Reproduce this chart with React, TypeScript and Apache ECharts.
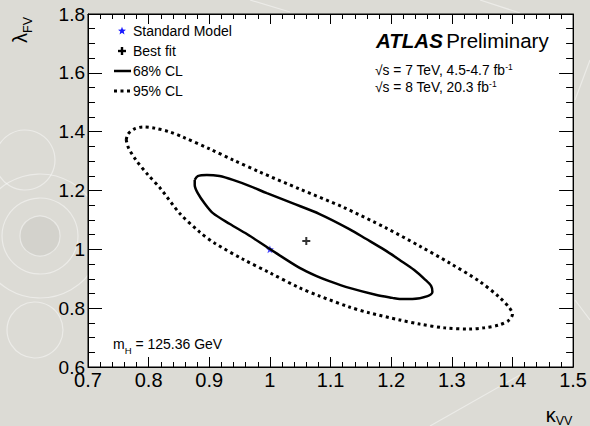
import { useEffect, useRef } from "react";
import * as echarts from "echarts";

// Likelihood contours in the (kappa_VV, lambda_FV) plane
const contour68: [number, number][] = [
  [0.876, 1.236], [0.881, 1.249], [0.896, 1.253], [0.917, 1.249], [0.939, 1.236],
  [0.967, 1.215], [0.995, 1.191], [1.037, 1.157], [1.082, 1.12], [1.131, 1.069],
  [1.159, 1.035], [1.189, 0.998], [1.214, 0.964], [1.238, 0.93], [1.255, 0.899],
  [1.266, 0.875], [1.268, 0.855], [1.26, 0.841], [1.235, 0.831], [1.214, 0.831],
  [1.202, 0.835], [1.176, 0.845], [1.131, 0.869], [1.098, 0.892], [1.077, 0.909],
  [1.049, 0.937], [1.0, 1.001], [0.962, 1.052], [0.934, 1.086], [0.906, 1.123],
  [0.893, 1.154], [0.881, 1.191], [0.876, 1.219], [0.876, 1.236],
];

const contour95: [number, number][] = [
  [0.763, 1.372], [0.766, 1.392], [0.776, 1.409], [0.791, 1.416], [0.81, 1.412],
  [0.835, 1.399], [0.856, 1.382], [0.901, 1.341], [0.939, 1.304], [0.983, 1.263],
  [1.049, 1.205], [1.12, 1.144], [1.192, 1.072], [1.247, 1.011], [1.296, 0.954],
  [1.345, 0.892], [1.378, 0.838], [1.395, 0.801], [1.4, 0.78], [1.395, 0.76],
  [1.378, 0.743], [1.353, 0.733], [1.329, 0.729], [1.288, 0.733], [1.247, 0.746],
  [1.214, 0.76], [1.164, 0.784], [1.131, 0.804], [1.082, 0.841], [1.049, 0.869],
  [1.0, 0.92], [0.955, 0.967], [0.909, 1.021], [0.884, 1.059], [0.851, 1.123],
  [0.819, 1.208], [0.799, 1.253], [0.779, 1.304], [0.767, 1.344], [0.763, 1.372],
];

const bestFit: [number, number] = [1.06, 1.028];
const standardModel: [number, number] = [1.0, 1.0];

const kappaRange = [0.7, 1.5];
const lambdaRange = [0.6, 1.8];

const legendLabels = ["Standard Model", "Best fit", "68% CL", "95% CL"];
const energyLabels = [
  { text: "√s = 7 TeV, 4.5-4.7 fb", sup: "-1" },
  { text: "√s = 8 TeV, 20.3 fb", sup: "-1" },
];
const massLabel = { main: "m", sub: "H", rest: " = 125.36 GeV" };

const FONT = "'Liberation Sans', Arial, Helvetica, sans-serif";
const STAR_PATH =
  "path://M12,0L14.9,8.1L23.4,8.1L16.6,13.3L19.1,21.5L12,16.6L4.9,21.5L7.4,13.3L0.6,8.1L9.1,8.1Z";
const PLUS_PATH = "path://M3,0h2v3h3v2h-3v3h-2v-3h-3v-2h3z";

function starPoints(cx: number, cy: number, ro: number, ri: number) {
  const pts: number[][] = [];
  for (let i = 0; i < 10; i++) {
    const r = i % 2 === 0 ? ro : ri;
    const a = -Math.PI / 2 + (i * Math.PI) / 5;
    pts.push([cx + r * Math.cos(a), cy + r * Math.sin(a)]);
  }
  return pts;
}

const fmt = (v: number) => String(parseFloat(v.toFixed(2)));

export default function App() {
  const ref = useRef<HTMLDivElement>(null);

  useEffect(() => {
    if (!ref.current) return;
    const chart = echarts.init(ref.current, null, { renderer: "svg" });

    const axisCommon = {
      type: "value" as const,
      axisLine: { show: true, lineStyle: { color: "#000", width: 1 } },
      splitLine: { show: false },
    };

    const deco = "rgba(255,255,255,0.45)";
    const background: any[] = [
      { type: "circle", shape: { cx: 40, cy: 236, r: 20 }, style: { fill: "rgba(200,200,194,0.45)", stroke: deco, lineWidth: 1.2 }, z: -10 },
      { type: "circle", shape: { cx: 40, cy: 236, r: 38 }, style: { fill: "none", stroke: deco, lineWidth: 1.2 }, z: -10 },
      { type: "circle", shape: { cx: 40, cy: 236, r: 62 }, style: { fill: "none", stroke: deco, lineWidth: 1.2 }, z: -10 },
      { type: "circle", shape: { cx: 25, cy: 160, r: 30 }, style: { fill: "none", stroke: deco, lineWidth: 1.2 }, z: -10 },
      { type: "circle", shape: { cx: 35, cy: 330, r: 28 }, style: { fill: "none", stroke: deco, lineWidth: 1.2 }, z: -10 },
      { type: "line", shape: { x1: 430, y1: 426, x2: 520, y2: 375 }, style: { stroke: deco, lineWidth: 1.2 }, z: -10 },
      { type: "line", shape: { x1: 575, y1: 100, x2: 590, y2: 60 }, style: { stroke: deco, lineWidth: 1.2 }, z: -10 },
      { type: "line", shape: { x1: 575, y1: 300, x2: 590, y2: 320 }, style: { stroke: deco, lineWidth: 1.2 }, z: -10 },
      { type: "line", shape: { x1: 250, y1: 0, x2: 290, y2: 12 }, style: { stroke: deco, lineWidth: 1.2 }, z: -10 },
      { type: "line", shape: { x1: 480, y1: 0, x2: 520, y2: 13 }, style: { stroke: deco, lineWidth: 1.2 }, z: -10 },
    ];

    const legendX = 133;
    const legendY = [31, 51, 71, 91];
    const legend: any[] = [
      { type: "polygon", shape: { points: starPoints(122, legendY[0], 4.2, 1.8) }, style: { fill: "#1a1aff" } },
      { type: "rect", shape: { x: 118, y: legendY[1] - 1.2, width: 8, height: 2.4 }, style: { fill: "#000" } },
      { type: "rect", shape: { x: 120.8, y: legendY[1] - 4, width: 2.4, height: 8 }, style: { fill: "#000" } },
      { type: "line", shape: { x1: 114, y1: legendY[2], x2: 131, y2: legendY[2] }, style: { stroke: "#000", lineWidth: 2.5 } },
      { type: "line", shape: { x1: 114, y1: legendY[3], x2: 131, y2: legendY[3] }, style: { stroke: "#000", lineWidth: 3, lineDash: [3, 3.5] } },
      ...legendLabels.map((t, i) => ({
        type: "text",
        x: legendX,
        y: legendY[i],
        style: { text: t, fontSize: 14, fontFamily: FONT, fill: "#000", align: "left", verticalAlign: "middle" },
      })),
    ];

    const texts: any[] = [
      {
        type: "text",
        x: 376,
        y: 40,
        style: {
          text: "{b|ATLAS} {n|Preliminary}",
          align: "left",
          verticalAlign: "middle",
          rich: {
            b: { fontSize: 20.5, fontFamily: FONT, fontWeight: "bold", fontStyle: "italic", fill: "#000" },
            n: { fontSize: 20.5, fontFamily: FONT, fill: "#000" },
          },
        },
      },
      ...energyLabels.map((e, i) => ({
        type: "text",
        x: 375,
        y: 70 + i * 17,
        style: {
          text: `{n|${e.text}}{s|${e.sup}}`,
          align: "left",
          verticalAlign: "middle",
          rich: {
            n: { fontSize: 13.8, fontFamily: FONT, fill: "#000", lineHeight: 15 },
            s: { fontSize: 8.5, fontFamily: FONT, fill: "#000", verticalAlign: "top", lineHeight: 15 },
          },
        },
      })),
      {
        type: "text",
        x: 113,
        y: 346,
        style: {
          text: `{n|${massLabel.main}}{s|${massLabel.sub}}{n|${massLabel.rest}}`,
          align: "left",
          verticalAlign: "middle",
          rich: {
            n: { fontSize: 14, fontFamily: FONT, fill: "#000", lineHeight: 18, verticalAlign: "top" },
            s: { fontSize: 9.5, fontFamily: FONT, fill: "#000", verticalAlign: "bottom", lineHeight: 18 },
          },
        },
      },
      // axis titles
      {
        type: "text",
        x: 22,
        y: 30,
        rotation: Math.PI / 2,
        style: {
          text: "{n|λ}{s|FV}",
          align: "center",
          verticalAlign: "middle",
          rich: {
            n: { fontSize: 20, fontFamily: FONT, fill: "#000", lineHeight: 24, verticalAlign: "top" },
            s: { fontSize: 12.5, fontFamily: FONT, fill: "#000", verticalAlign: "bottom", lineHeight: 24 },
          },
        },
      },
      {
        type: "text",
        x: 559,
        y: 416,
        style: {
          text: "{n|κ}{s|VV}",
          align: "center",
          verticalAlign: "middle",
          rich: {
            n: { fontSize: 20, fontFamily: FONT, fill: "#000", lineHeight: 22, verticalAlign: "top" },
            s: { fontSize: 12.5, fontFamily: FONT, fill: "#000", verticalAlign: "bottom", lineHeight: 22 },
          },
        },
      },
    ];

    chart.setOption({
      animation: false,
      backgroundColor: "#dcdbd5",
      grid: {
        left: 88,
        top: 14,
        width: 486,
        height: 353,
        show: true,
        backgroundColor: "#ffffff",
        borderColor: "#000",
        borderWidth: 1,
      },
      xAxis: [
        {
          ...axisCommon,
          position: "bottom",
          min: kappaRange[0],
          max: kappaRange[1],
          interval: 0.1,
          axisTick: { show: true, inside: true, length: 10, lineStyle: { color: "#000", width: 1 } },
          minorTick: { show: true, splitNumber: 5, length: 5, lineStyle: { color: "#000", width: 1 } },
          axisLabel: { fontSize: 20, fontFamily: FONT, color: "#000", margin: 3, formatter: fmt },
        },
        {
          ...axisCommon,
          position: "top",
          min: kappaRange[0],
          max: kappaRange[1],
          interval: 0.1,
          axisTick: { show: true, inside: true, length: 10, lineStyle: { color: "#000", width: 1 } },
          minorTick: { show: true, splitNumber: 5, length: 5, lineStyle: { color: "#000", width: 1 } },
          axisLabel: { show: false },
        },
      ],
      yAxis: [
        {
          ...axisCommon,
          position: "left",
          min: lambdaRange[0],
          max: lambdaRange[1],
          interval: 0.2,
          axisTick: { show: true, inside: true, length: 14, lineStyle: { color: "#000", width: 1 } },
          minorTick: { show: true, splitNumber: 4, length: 7, lineStyle: { color: "#000", width: 1 } },
          axisLabel: { fontSize: 19, fontFamily: FONT, color: "#000", margin: 3, formatter: fmt },
        },
        {
          ...axisCommon,
          position: "right",
          min: lambdaRange[0],
          max: lambdaRange[1],
          interval: 0.2,
          axisTick: { show: true, inside: true, length: 14, lineStyle: { color: "#000", width: 1 } },
          minorTick: { show: true, splitNumber: 4, length: 7, lineStyle: { color: "#000", width: 1 } },
          axisLabel: { show: false },
        },
      ],
      series: [
        {
          name: "95% CL",
          type: "line",
          xAxisIndex: 0,
          yAxisIndex: 0,
          data: contour95,
          smooth: 0.3,
          symbol: "none",
          lineStyle: { color: "#000", width: 3, type: [3, 3.5], cap: "butt" },
        },
        {
          name: "68% CL",
          type: "line",
          xAxisIndex: 0,
          yAxisIndex: 0,
          data: contour68,
          smooth: 0.3,
          symbol: "none",
          lineStyle: { color: "#000", width: 2.5 },
        },
        {
          name: "Best fit",
          type: "scatter",
          xAxisIndex: 0,
          yAxisIndex: 0,
          data: [bestFit],
          symbol: PLUS_PATH,
          symbolSize: 8,
          itemStyle: { color: "#000" },
        },
        {
          name: "Standard Model",
          type: "scatter",
          xAxisIndex: 0,
          yAxisIndex: 0,
          data: [standardModel],
          symbol: STAR_PATH,
          symbolSize: 8,
          itemStyle: { color: "#1a1aff" },
        },
      ],
      graphic: [...background, ...legend, ...texts],
    });

    return () => chart.dispose();
  }, []);

  return (
    <div
      ref={ref}
      style={{ position: "absolute", left: 0, top: 0, width: 590, height: 426 }}
    />
  );
}
